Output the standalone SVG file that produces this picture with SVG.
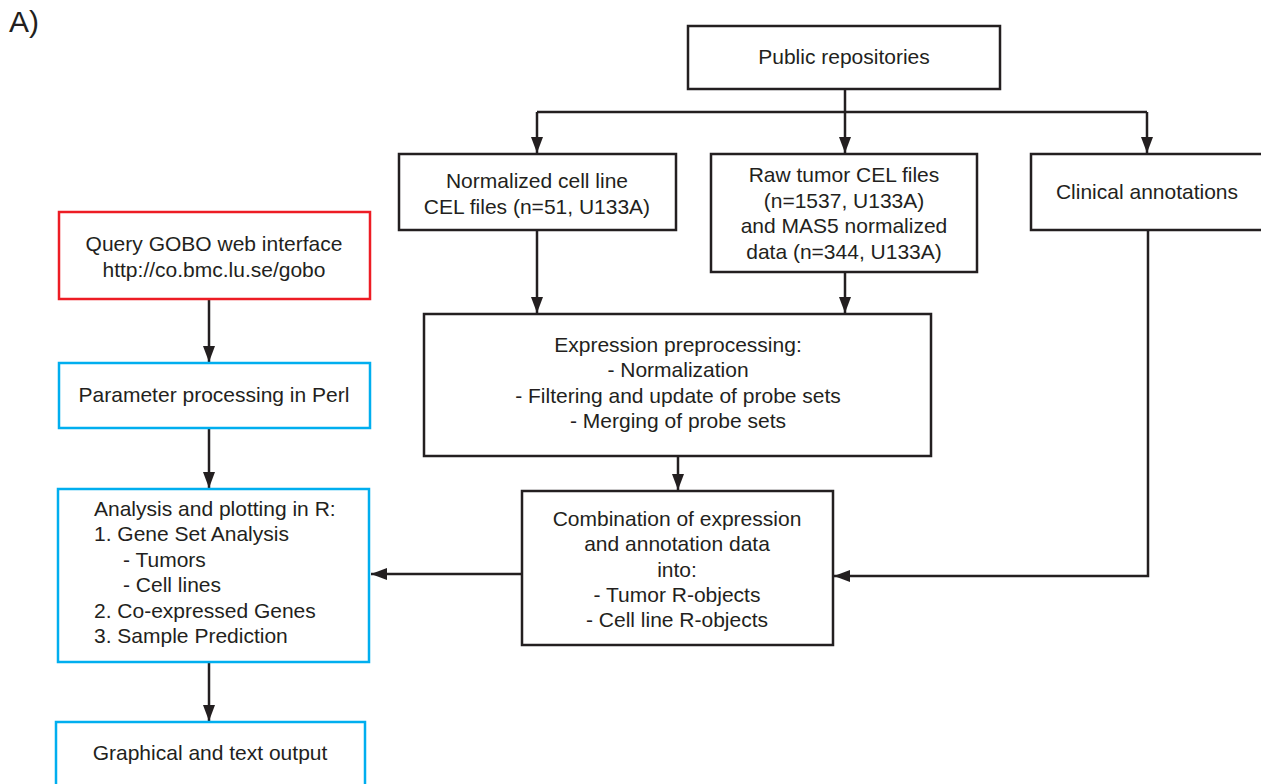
<svg xmlns="http://www.w3.org/2000/svg" width="1261" height="784" viewBox="0 0 1261 784">
<defs>
<style>
text{font-family:"Liberation Sans",Arial,sans-serif;font-size:21px;fill:#231f20}
.c{text-anchor:middle}
.box{fill:#fff;stroke:#231f20;stroke-width:2.5}
.blue{fill:#fff;stroke:#00aeef;stroke-width:2.5}
.red{fill:#fff;stroke:#ed1c24;stroke-width:2.5}
.ln{fill:none;stroke:#231f20;stroke-width:2.5}
</style>
<marker id="ah" viewBox="0 0 16 12" refX="16" refY="6" markerWidth="16" markerHeight="12" markerUnits="userSpaceOnUse" orient="auto">
<path d="M0,0 L16,6 L0,12 Z" fill="#231f20"/>
</marker>
</defs>
<rect width="1261" height="784" fill="#fff"/>
<text x="9" y="32" style="font-size:30px">A)</text>

<g id="connectors">
<path class="ln" d="M845,89 V153" marker-end="url(#ah)"/>
<path class="ln" d="M537,112 H1147"/>
<path class="ln" d="M537,112 V153" marker-end="url(#ah)"/>
<path class="ln" d="M1147,112 V153" marker-end="url(#ah)"/>
<path class="ln" d="M537,230 V313" marker-end="url(#ah)"/>
<path class="ln" d="M845,272 V313" marker-end="url(#ah)"/>
<path class="ln" d="M678,456 V490" marker-end="url(#ah)"/>
<path class="ln" d="M1148,230 V576 H834" marker-end="url(#ah)"/>
<path class="ln" d="M522,574 H371" marker-end="url(#ah)"/>
<path class="ln" d="M209,299 V362" marker-end="url(#ah)"/>
<path class="ln" d="M209,428 V488" marker-end="url(#ah)"/>
<path class="ln" d="M209,662 V721" marker-end="url(#ah)"/>
</g>

<g id="public">
<rect class="box" x="688" y="26" width="312" height="63"/>
<text class="c" x="844" y="64">Public repositories</text>
</g>
<g id="normalized">
<rect class="box" x="399" y="154" width="277" height="76"/>
<text class="c" x="537" y="188">Normalized cell line</text>
<text class="c" x="537" y="214">CEL files (n=51, U133A)</text>
</g>
<g id="raw">
<rect class="box" x="711" y="154" width="266" height="118"/>
<text class="c" x="844" y="182">Raw tumor CEL files</text>
<text class="c" x="844" y="208">(n=1537, U133A)</text>
<text class="c" x="844" y="233">and MAS5 normalized</text>
<text class="c" x="844" y="259">data (n=344, U133A)</text>
</g>
<g id="clinical">
<rect class="box" x="1031" y="154" width="240" height="76"/>
<text class="c" x="1147" y="199">Clinical annotations</text>
</g>
<g id="expression">
<rect class="box" x="424" y="314" width="507" height="142"/>
<text class="c" x="678" y="352">Expression preprocessing:</text>
<text class="c" x="678" y="377">- Normalization</text>
<text class="c" x="678" y="403">- Filtering and update of probe sets</text>
<text class="c" x="678" y="428">- Merging of probe sets</text>
</g>
<g id="combination">
<rect class="box" x="522" y="491" width="311" height="154"/>
<text class="c" x="677" y="526">Combination of expression</text>
<text class="c" x="677" y="551">and annotation data</text>
<text class="c" x="677" y="577">into:</text>
<text class="c" x="677" y="602">- Tumor R-objects</text>
<text class="c" x="677" y="627">- Cell line R-objects</text>
</g>
<g id="query">
<rect class="red" x="59" y="212" width="311" height="87"/>
<text class="c" x="214" y="251">Query GOBO web interface</text>
<text class="c" x="214" y="277">http://co.bmc.lu.se/gobo</text>
</g>
<g id="parameter">
<rect class="blue" x="59" y="363" width="311" height="65"/>
<text class="c" x="214" y="402">Parameter processing in Perl</text>
</g>
<g id="analysis">
<rect class="blue" x="58" y="489" width="311" height="173"/>
<text x="94" y="516">Analysis and plotting in R:</text>
<text x="94" y="541">1. Gene Set Analysis</text>
<text x="123" y="567">- Tumors</text>
<text x="123" y="592">- Cell lines</text>
<text x="94" y="618">2. Co-expressed Genes</text>
<text x="94" y="643">3. Sample Prediction</text>
</g>
<g id="graphical">
<rect class="blue" x="56" y="722" width="309" height="80"/>
<text class="c" x="210" y="760">Graphical and text output</text>
</g>
</svg>
